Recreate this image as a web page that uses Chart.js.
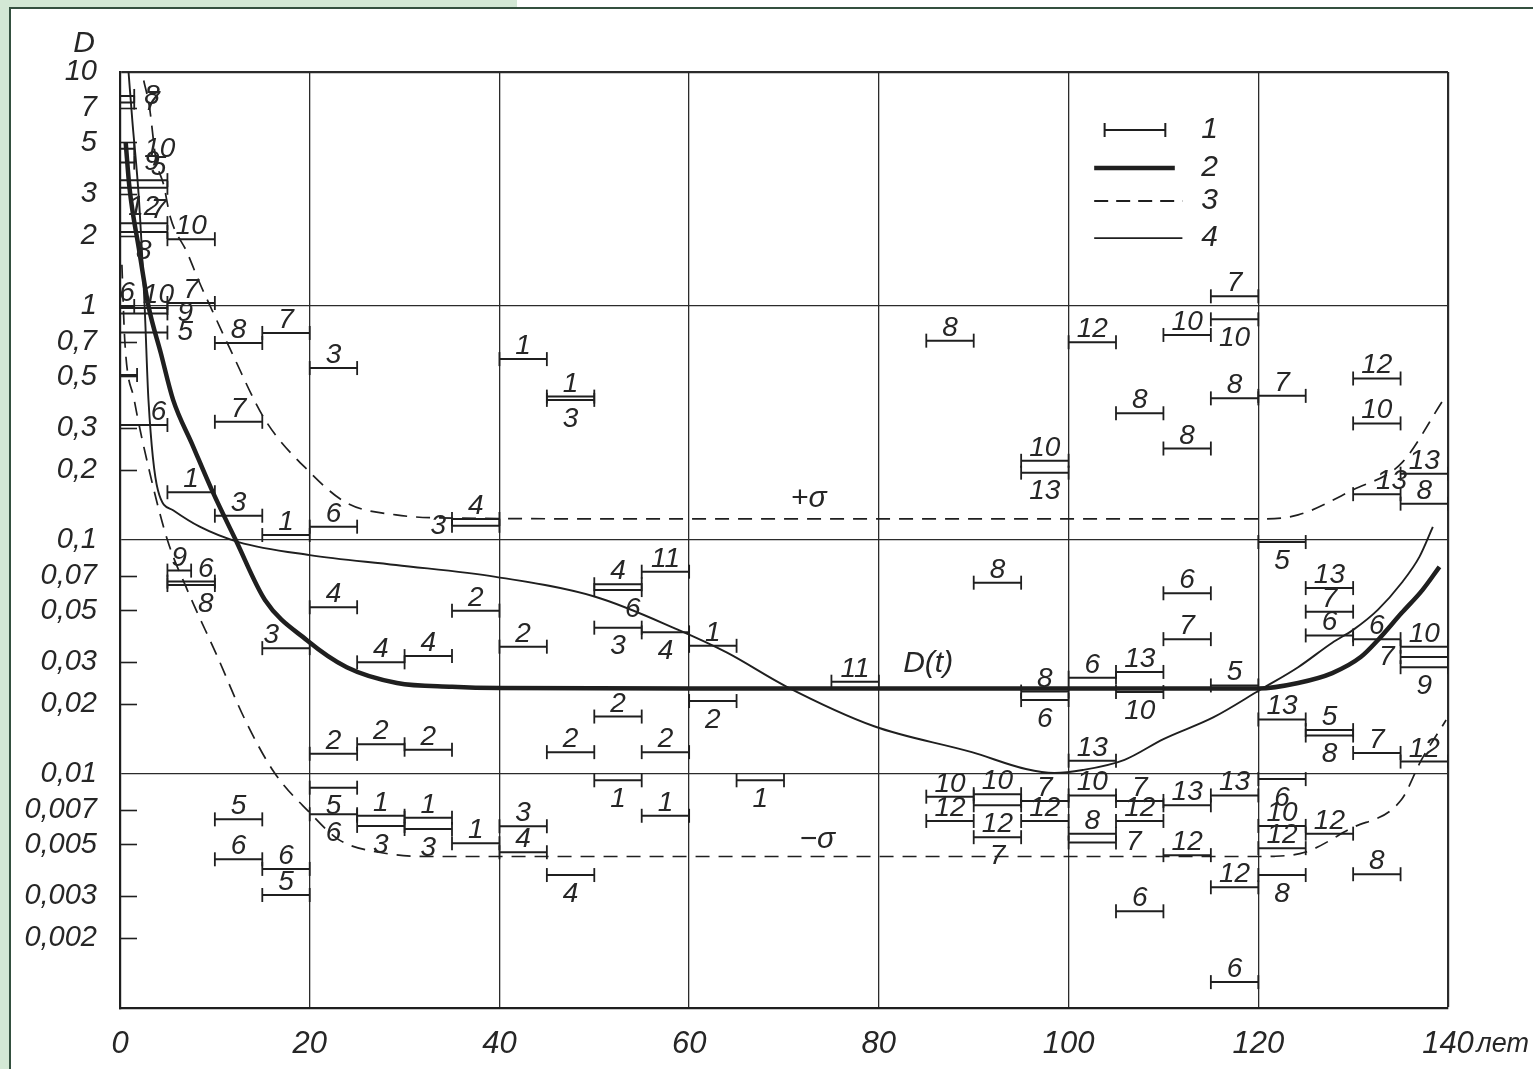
<!DOCTYPE html>
<html>
<head>
<meta charset="utf-8">
<script src="https://cdn.jsdelivr.net/npm/chart.js@4.4.1/dist/chart.umd.min.js"></script>
<style>
  html, body { margin: 0; padding: 0; background: #ffffff; }
  #page { position: relative; width: 1533px; height: 1069px; overflow: hidden; background: #ffffff; }
  .band-left { position: absolute; left: 0; top: 0; width: 9px; height: 1069px; background: #d3e8d5; }
  .band-top { position: absolute; left: 0; top: 0; width: 517px; height: 7px; background: #d3e8d5; }
  .rule-left { position: absolute; left: 9px; top: 7px; width: 2px; height: 1062px; background: #34503f; }
  .rule-top { position: absolute; left: 9px; top: 7px; width: 1524px; height: 2px; background: #34503f; }
  #box { position: absolute; left: 0; top: 0; width: 1533px; height: 1069px; }
</style>
</head>
<body>
<div id="page">
  <div class="band-left"></div>
  <div class="band-top"></div>
  <div class="rule-left"></div>
  <div class="rule-top"></div>
  <div id="box"><canvas id="chart"></canvas></div>
</div>
<script>
// Axis ticks
const ageTicks = [0, 20, 40, 60, 80, 100, 120, 140];
const dTicks = [10, 7, 5, 3, 2, 1, 0.7, 0.5, 0.3, 0.2, 0.1, 0.07, 0.05, 0.03, 0.02, 0.01,
                0.007, 0.005, 0.003, 0.002, 0.001];
const dGridLines = [10, 1, 0.1, 0.01, 0.001];

// Age-interval estimates: [group number, from age, to age, D]
const intervals = [
  ['8', 0, 1.5, 7.9], ['7', 0, 1.5, 7.4], ['10', 0, 1.5, 4.7], ['9', 0, 1.5, 4.1],
  ['5', 0, 5, 3.45], ['12', 0, 5, 3.2], ['7', 0, 5, 2.26], ['8', 0, 5, 2.07],
  ['10', 5, 10, 1.93], ['6', 0, 1.5, 1.0],
  ['10', 0, 5, 0.98], ['7', 5, 10, 1.03], ['9', 0, 5, 0.93], ['5', 0, 5, 0.77],
  ['', 0, 1.8, 0.507], ['6', 0, 5, 0.31], ['7', 10, 15, 0.32], ['8', 10, 15, 0.695],
  ['7', 15, 20, 0.767], ['3', 20, 25, 0.543],
  ['1', 5, 10, 0.16], ['3', 10, 15, 0.127], ['1', 15, 20, 0.105], ['6', 20, 25, 0.114],
  ['4', 35, 40, 0.123], ['3', 35, 40, 0.115], ['9', 5, 7.5, 0.074], ['6', 5, 10, 0.0664],
  ['8', 5, 10, 0.0642], ['4', 20, 25, 0.0516],
  ['3', 15, 20, 0.0345], ['4', 25, 30, 0.030], ['4', 30, 35, 0.0319], ['2', 35, 40, 0.0499],
  ['2', 40, 45, 0.035], ['2', 20, 25, 0.0122], ['2', 25, 30, 0.0134], ['2', 30, 35, 0.0127],
  ['5', 20, 25, 0.00874], ['5', 10, 15, 0.0064],
  ['6', 10, 15, 0.00432], ['6', 15, 20, 0.00393], ['5', 15, 20, 0.00304], ['6', 20, 25, 0.00673],
  ['1', 25, 30, 0.00663], ['3', 25, 30, 0.0060], ['1', 30, 35, 0.0065], ['3', 30, 35, 0.00582],
  ['1', 35, 40, 0.00506], ['3', 40, 45, 0.00598],
  ['4', 40, 45, 0.00463], ['4', 45, 50, 0.0037], ['2', 45, 50, 0.0124], ['1', 50, 55, 0.0094],
  ['2', 55, 60, 0.0124], ['1', 55, 60, 0.00663], ['1', 65, 70, 0.0094], ['2', 60, 65, 0.0205],
  ['2', 50, 55, 0.0176], ['3', 50, 55, 0.0422],
  ['4', 55, 60, 0.0403], ['4', 50, 55, 0.0647], ['6', 50, 55, 0.0611], ['11', 55, 60, 0.0732],
  ['1', 60, 65, 0.0353], ['11', 75, 80, 0.0248], ['1', 40, 45, 0.593], ['1', 45, 50, 0.41],
  ['3', 45, 50, 0.397], ['8', 85, 90, 0.711],
  ['8', 90, 95, 0.0657], ['7', 115, 120, 1.10], ['10', 115, 120, 0.877], ['12', 100, 105, 0.70],
  ['10', 110, 115, 0.752], ['8', 105, 110, 0.348], ['8', 115, 120, 0.403], ['7', 120, 125, 0.413],
  ['12', 130, 135, 0.49], ['10', 130, 135, 0.315],
  ['8', 110, 115, 0.246], ['10', 95, 100, 0.218], ['13', 95, 100, 0.194], ['13', 130, 135, 0.157],
  ['13', 135, 140, 0.192], ['8', 135, 140, 0.143], ['5', 120, 125, 0.098], ['13', 125, 130, 0.0623],
  ['7', 125, 130, 0.0494], ['6', 125, 130, 0.0391],
  ['6', 130, 135, 0.0377], ['10', 135, 140, 0.035], ['7', 135, 140, 0.0316], ['9', 135, 140, 0.0286],
  ['6', 110, 115, 0.0592], ['7', 110, 115, 0.0377], ['6', 100, 105, 0.0258], ['13', 105, 110, 0.0273],
  ['10', 105, 110, 0.0224], ['5', 115, 120, 0.0239],
  ['8', 95, 100, 0.0225], ['6', 95, 100, 0.0207], ['13', 120, 125, 0.0171], ['5', 125, 130, 0.0154],
  ['8', 125, 130, 0.0146], ['7', 130, 135, 0.0123], ['12', 135, 140, 0.0113], ['13', 100, 105, 0.0114],
  ['6', 120, 125, 0.00951], ['10', 85, 90, 0.008],
  ['12', 85, 90, 0.0063], ['10', 90, 95, 0.0082], ['12', 90, 95, 0.00735], ['7', 90, 95, 0.00537],
  ['7', 95, 100, 0.00767], ['12', 95, 100, 0.0063], ['10', 100, 105, 0.0081], ['8', 100, 105, 0.00556],
  ['7', 100, 105, 0.0051], ['7', 105, 110, 0.00767],
  ['12', 105, 110, 0.0063], ['13', 110, 115, 0.00735], ['13', 115, 120, 0.0081], ['12', 110, 115, 0.0045],
  ['12', 115, 120, 0.00328], ['6', 105, 110, 0.00259], ['6', 115, 120, 0.00129], ['10', 120, 125, 0.006],
  ['12', 120, 125, 0.00482], ['8', 120, 125, 0.0037],
  ['12', 125, 130, 0.00556], ['8', 130, 135, 0.00373]
];

// Where each interval's number sits: a = above, b = below, ar/al = above right/left end,
// br = below right end, r = right of the end, l = left of the start
const labelSide = (
  'r r r r ar b ar b a a ' +
  'ar a r r a ar a a a a ' +
  'a a a a a l a ar br a ' +
  'al a a a a a a a b a ' +
  'a a a b a b a b a a ' +
  'a b a b a a b b a b ' +
  'b a br a a a a a b a ' +
  'a a b a a a a a a a ' +
  'a a b ar a a b a a a ' +
  'a a l b a a a a b a ' +
  'a b a a b a a a b a ' +
  'a a b b a a a a r a ' +
  'a a a a a a a a a b ' +
  'a a').trim().split(/\s+/);

// Curve 2: mean D(t)
const meanAge = [0.6, 1.0, 2.0, 3.0, 4.3, 5.6, 7.6, 9.7, 12.2, 15.3, 19.7, 23.9, 29.2, 35, 40,
                 60, 80, 100, 120, 124.2, 127.8, 130.8, 132.6, 135.1, 137.3, 139.1];
const meanD = [5.0, 3.2, 1.75, 1.0, 0.63, 0.397, 0.257, 0.163, 0.1, 0.0553, 0.0373, 0.0286, 0.0245,
               0.0236, 0.0233, 0.0232, 0.0232, 0.0232, 0.0232, 0.0245, 0.027, 0.0316, 0.0373,
               0.0487, 0.0611, 0.0768];

// Curve 3: D(t) + sigma and D(t) - sigma
const sigmaUpAge = [2.5, 3.1, 3.8, 4.6, 5.3, 7.1, 8.4, 9.7, 11.8, 15.3, 20, 23.9, 29.1, 36,
                    60, 90, 120, 124.2, 130, 135.1, 139.5];
const sigmaUpD = [9.2, 7.1, 4.2, 3.3, 2.4, 1.685, 1.254, 0.961, 0.63, 0.326, 0.195, 0.144, 0.128,
                  0.124, 0.123, 0.123, 0.123, 0.128, 0.164, 0.213, 0.397];
const sigmaLowAge = [0.2, 0.5, 1.5, 3.0, 5.0, 7.1, 10.2, 13.2, 16.3, 20, 23.1, 27.3, 32.5,
                     60, 90, 120, 121.7, 125, 129.6, 135.1, 137.2, 139.8];
const sigmaLowD = [1.5, 0.716, 0.397, 0.205, 0.1, 0.0611, 0.0322, 0.017, 0.0101, 0.00684, 0.00523,
                   0.00463, 0.00444, 0.00444, 0.00444, 0.00444, 0.00445, 0.00464, 0.00581, 0.00778,
                   0.0115, 0.017];

// Curve 4
const curve4Age = [0.9, 1.3, 2.0, 2.6, 3.0, 4.0, 5.6, 8.4, 12.5, 20, 29.1, 39.6, 50.1, 58.8, 64.0,
                   70.2, 79.5, 89.8, 95.5, 98.5, 101.5, 105.9, 110, 115.3, 120.2, 124.2, 127.8,
                   130, 132.6, 135.1, 137, 138.4];
const curve4D = [10, 6.2, 2.84, 0.99, 0.397, 0.163, 0.134, 0.114, 0.098, 0.0862, 0.0782, 0.0696,
                 0.0572, 0.0414, 0.033, 0.0237, 0.016, 0.0124, 0.0105, 0.0101, 0.0104, 0.0115,
                 0.0141, 0.0175, 0.0229, 0.0286, 0.0364, 0.0413, 0.0503, 0.0655, 0.0849, 0.1138];

// Legend entries
const legendNames = ['1', '2', '3', '4'];

// ---------------------------------------------------------------------------
const INK = '#1f1f1f';
const TEXT = '#262626';
const FONT = "'Liberation Sans', 'DejaVu Sans', sans-serif";

const zip = (xs, ys) => xs.map((x, i) => ({ x: x, y: ys[i] }));

// Interval marks: one broken line, the break comes from the null point after each interval
const intervalPoints = [];
intervals.forEach(([, from, to, d]) => {
  intervalPoints.push({ x: from, y: d }, { x: to, y: d }, { x: to, y: null });
});

const isGridValue = v => dGridLines.some(g => Math.abs(Math.log10(v) - Math.log10(g)) < 1e-6);
const fmt = v => String(v).replace('.', ',');

const innerTicks = {
  id: 'innerTicks',
  beforeDatasetsDraw(chart) {
    const { ctx, chartArea, scales } = chart;
    ctx.save();
    ctx.strokeStyle = INK;
    ctx.lineWidth = 1.6;
    dTicks.forEach(v => {
      if (isGridValue(v)) return;
      const y = Math.round(scales.y.getPixelForValue(v)) + 0.5;
      ctx.beginPath();
      ctx.moveTo(chartArea.left, y);
      ctx.lineTo(chartArea.left + 17, y);
      ctx.stroke();
    });
    ctx.restore();
  }
};

const annotations = {
  id: 'annotations',
  afterDatasetsDraw(chart) {
    const { ctx, chartArea, scales } = chart;
    const X = v => scales.x.getPixelForValue(v);
    const Y = v => scales.y.getPixelForValue(v);
    ctx.save();
    ctx.fillStyle = TEXT;
    ctx.font = 'italic 28px ' + FONT;

    intervals.forEach(([lab, from, to, d], i) => {
      if (!lab) return;
      const side = labelSide[i] || 'a';
      const x0 = X(from), x1 = X(to), y = Y(d);
      let x = (x0 + x1) / 2, ty = y - 5;
      ctx.textAlign = 'center';
      ctx.textBaseline = 'alphabetic';
      if (side === 'ar') { x = x1 - 9; }
      else if (side === 'al') { x = x0 + 9; }
      else if (side === 'b' || side === 'br') {
        ctx.textBaseline = 'top'; ty = y + 5;
        if (side === 'br') x = x1 - 9;
      } else if (side === 'r') {
        ctx.textAlign = 'left'; ctx.textBaseline = 'middle'; x = x1 + 10; ty = y;
      } else if (side === 'l') {
        ctx.textAlign = 'right'; ctx.textBaseline = 'middle'; x = x0 - 6; ty = y;
      }
      ctx.fillText(lab, x, ty);
    });

    // Curve names
    ctx.font = 'italic 30px ' + FONT;
    ctx.textAlign = 'center';
    ctx.textBaseline = 'middle';
    ctx.fillText('+σ', X(72.6), Y(0.15));
    ctx.fillText('−σ', X(73.5), Y(0.00525));
    ctx.fillText('D(t)', X(85.2), Y(0.0296));

    // Axis names
    ctx.fillText('D', chartArea.left - 36, chartArea.top - 28);
    ctx.textAlign = 'right';
    ctx.font = 'italic 27px ' + FONT;
    ctx.fillText('лет', chart.width - 4, chartArea.bottom + 36);

    // Legend
    const lx0 = X(102.7), lx1 = X(112), tx = X(114);
    const rows = [5.65, 3.89, 2.81, 1.95].map(Y);
    ctx.strokeStyle = INK;
    // 1: interval mark
    ctx.lineWidth = 2;
    ctx.beginPath();
    const ix0 = X(103.8), ix1 = X(110.2);
    ctx.moveTo(ix0, rows[0]); ctx.lineTo(ix1, rows[0]);
    ctx.moveTo(ix0, rows[0] - 7); ctx.lineTo(ix0, rows[0] + 7);
    ctx.moveTo(ix1, rows[0] - 7); ctx.lineTo(ix1, rows[0] + 7);
    ctx.stroke();
    // 2: thick line
    ctx.lineWidth = 4.5;
    ctx.beginPath(); ctx.moveTo(lx0, rows[1]); ctx.lineTo(X(111.2), rows[1]); ctx.stroke();
    // 3: dashed line
    ctx.lineWidth = 1.8;
    ctx.setLineDash([14, 8]);
    ctx.beginPath(); ctx.moveTo(lx0, rows[2]); ctx.lineTo(lx1, rows[2]); ctx.stroke();
    ctx.setLineDash([]);
    // 4: thin line
    ctx.lineWidth = 1.8;
    ctx.beginPath(); ctx.moveTo(lx0, rows[3]); ctx.lineTo(lx1, rows[3]); ctx.stroke();

    ctx.font = 'italic 30px ' + FONT;
    ctx.textAlign = 'left';
    ctx.textBaseline = 'middle';
    legendNames.forEach((n, i) => ctx.fillText(n, tx, rows[i]));
    ctx.restore();
  }
};

const curve = (data, width, dash) => ({
  data: data,
  showLine: true,
  borderColor: INK,
  borderWidth: width,
  borderDash: dash || [],
  pointRadius: 0,
  fill: false,
  cubicInterpolationMode: 'monotone'
});

new Chart(document.getElementById('chart'), {
  type: 'scatter',
  data: {
    datasets: [
      {
        data: intervalPoints,
        showLine: true,
        spanGaps: false,
        borderColor: INK,
        borderWidth: 2,
        pointStyle: 'line',
        pointRotation: 90,
        pointRadius: 7,
        pointBorderWidth: 1.8,
        pointBorderColor: INK,
        pointBackgroundColor: INK,
        pointHoverRadius: 7
      },
      curve(zip(curve4Age, curve4D), 1.9),
      curve(zip(sigmaUpAge, sigmaUpD), 1.7, [14, 9]),
      curve(zip(sigmaLowAge, sigmaLowD), 1.7, [14, 9]),
      curve(zip(meanAge, meanD), 4.5)
    ]
  },
  options: {
    responsive: true,
    maintainAspectRatio: false,
    devicePixelRatio: 1,
    animation: false,
    events: [],
    layout: { padding: { left: 0, right: 85, top: 72, bottom: 0 } },
    plugins: { legend: { display: false }, tooltip: { enabled: false } },
    scales: {
      x: {
        type: 'linear',
        min: 0,
        max: 140,
        afterBuildTicks: s => { s.ticks = ageTicks.map(v => ({ value: v })); },
        afterFit: s => { s.height = 61; },
        ticks: {
          autoSkip: false,
          maxRotation: 0,
          padding: 18,
          color: TEXT,
          font: { family: FONT, size: 31, style: 'italic' },
          callback: v => String(v)
        },
        grid: {
          drawTicks: false,
          color: '#2b2b2b',
          lineWidth: c => (c.tick && c.tick.value === 140 ? 2.2 : 1.3)
        },
        border: { color: '#1f1f1f', width: 2.2 }
      },
      y: {
        type: 'logarithmic',
        min: 0.001,
        max: 10,
        afterBuildTicks: s => { s.ticks = dTicks.map(v => ({ value: v })); },
        afterFit: s => { s.width = 120; },
        ticks: {
          autoSkip: false,
          padding: 23,
          color: TEXT,
          font: { family: FONT, size: 29, style: 'italic' },
          callback: v => (v === 0.001 ? '' : fmt(v))
        },
        grid: {
          drawTicks: false,
          color: c => (c.tick && isGridValue(c.tick.value) ? '#2b2b2b' : 'rgba(0,0,0,0)'),
          lineWidth: c => (c.tick && c.tick.value === 10 ? 2.2 : 1.3)
        },
        border: { color: '#1f1f1f', width: 2.2 }
      }
    }
  },
  plugins: [innerTicks, annotations]
});
</script>
</body>
</html>
